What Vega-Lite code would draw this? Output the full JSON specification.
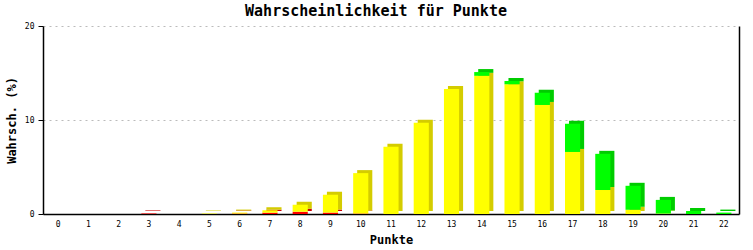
{
  "$schema": "https://vega.github.io/schema/vega-lite/v6.json",
  "width": 696,
  "height": 188,
  "autosize": {"type": "none"},
  "padding": {"left": 43, "top": 26, "right": 14, "bottom": 36},
  "background": "white",
  "title": {"text": "Wahrscheinlichkeit für Punkte", "font": "DejaVu Sans Mono", "fontSize": 15, "fontWeight": "bold", "color": "black", "offset": 3, "anchor": "middle", "dx": -15},
  "data": {"values": [
    {"punkte": 3, "farbe": "rot", "o": 1, "wert": 0.06},
    {"punkte": 5, "farbe": "gelb", "o": 2, "wert": 0.05},
    {"punkte": 6, "farbe": "rot", "o": 1, "wert": 0.05},
    {"punkte": 6, "farbe": "gelb", "o": 2, "wert": 0.1},
    {"punkte": 7, "farbe": "rot", "o": 1, "wert": 0.14},
    {"punkte": 7, "farbe": "gelb", "o": 2, "wert": 0.26},
    {"punkte": 8, "farbe": "rot", "o": 1, "wert": 0.25},
    {"punkte": 8, "farbe": "gelb", "o": 2, "wert": 0.74},
    {"punkte": 9, "farbe": "rot", "o": 1, "wert": 0.15},
    {"punkte": 9, "farbe": "gelb", "o": 2, "wert": 1.9},
    {"punkte": 10, "farbe": "rot", "o": 1, "wert": 0.05},
    {"punkte": 10, "farbe": "gelb", "o": 2, "wert": 4.3},
    {"punkte": 11, "farbe": "gelb", "o": 2, "wert": 7.15},
    {"punkte": 12, "farbe": "gelb", "o": 2, "wert": 9.7},
    {"punkte": 13, "farbe": "gelb", "o": 2, "wert": 13.3},
    {"punkte": 14, "farbe": "gelb", "o": 2, "wert": 14.7},
    {"punkte": 14, "farbe": "grün", "o": 3, "wert": 0.4},
    {"punkte": 15, "farbe": "gelb", "o": 2, "wert": 13.8},
    {"punkte": 15, "farbe": "grün", "o": 3, "wert": 0.35},
    {"punkte": 16, "farbe": "gelb", "o": 2, "wert": 11.6},
    {"punkte": 16, "farbe": "grün", "o": 3, "wert": 1.3},
    {"punkte": 17, "farbe": "gelb", "o": 2, "wert": 6.6},
    {"punkte": 17, "farbe": "grün", "o": 3, "wert": 3.0},
    {"punkte": 18, "farbe": "gelb", "o": 2, "wert": 2.55},
    {"punkte": 18, "farbe": "grün", "o": 3, "wert": 3.85},
    {"punkte": 19, "farbe": "gelb", "o": 2, "wert": 0.45},
    {"punkte": 19, "farbe": "grün", "o": 3, "wert": 2.55},
    {"punkte": 20, "farbe": "gelb", "o": 2, "wert": 0.05},
    {"punkte": 20, "farbe": "grün", "o": 3, "wert": 1.45},
    {"punkte": 21, "farbe": "grün", "o": 3, "wert": 0.32},
    {"punkte": 22, "farbe": "grün", "o": 3, "wert": 0.15}
  ]},
  "encoding": {
    "x": {"field": "punkte", "type": "ordinal", "scale": {"domain": [0,1,2,3,4,5,6,7,8,9,10,11,12,13,14,15,16,17,18,19,20,21,22], "paddingInner": 0.5, "paddingOuter": 0.25},
      "axis": {"title": "Punkte", "labelAngle": 0, "ticks": false, "domainColor": "black", "domainWidth": 1.5, "labelFont": "DejaVu Sans Mono", "labelFontSize": 8, "labelColor": "black", "labelPadding": 6, "titleFont": "DejaVu Sans Mono", "titleFontSize": 12, "titleFontWeight": "bold", "titleColor": "black", "titlePadding": 6}},
    "order": {"field": "o", "type": "quantitative", "sort": "ascending"}
  },
  "layer": [
    {
      "mark": {"type": "bar", "xOffset": 4, "yOffset": -3},
      "encoding": {
        "y": {"field": "wert", "type": "quantitative", "stack": "zero", "scale": {"domain": [0, 20]},
          "axis": {"title": "Wahrsch. (%)", "values": [0, 10, 20], "tickColor": "black", "tickSize": 5, "domainColor": "black", "domainWidth": 1.5, "gridColor": "#bbbbbb", "gridDash": [2, 4], "labelFont": "DejaVu Sans Mono", "labelFontSize": 8, "labelColor": "black", "labelPadding": 4, "titleFont": "DejaVu Sans Mono", "titleFontSize": 12, "titleFontWeight": "bold", "titleColor": "black", "titlePadding": 6}},
        "color": {"field": "farbe", "type": "nominal", "legend": null, "scale": {"domain": ["rot", "gelb", "grün"], "range": ["#cc0000", "#d4cc00", "#00cc00"]}}
      }
    },
    {
      "mark": {"type": "bar"},
      "encoding": {
        "y": {"field": "wert", "type": "quantitative", "stack": "zero", "scale": {"domain": [0, 20]}, "axis": null},
        "color": {"field": "farbe", "type": "nominal", "legend": null, "scale": {"domain": ["rot", "gelb", "grün"], "range": ["#ff0000", "#ffff00", "#00ff00"]}}
      }
    },
    {
      "mark": {"type": "bar", "opacity": 0},
      "encoding": {
        "y": {"field": "wert", "type": "quantitative", "stack": "zero", "scale": {"domain": [0, 20]},
          "axis": {"orient": "right", "title": null, "labels": false, "ticks": false, "grid": false, "domainColor": "black", "domainWidth": 1.5}}
      }
    }
  ],
  "resolve": {"axis": {"y": "independent"}, "scale": {"color": "independent"}},
  "config": {"view": {"stroke": null}}
}
